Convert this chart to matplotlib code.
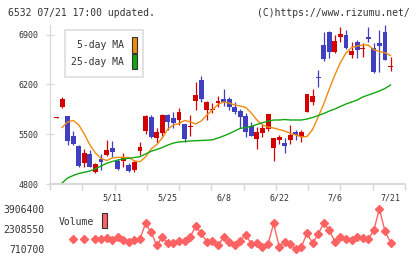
import numpy as np
import matplotlib.pyplot as plt
from matplotlib.patches import Rectangle

nan = np.nan

# daily prices (one entry per trading day)
opens = [5733, 5887, 5756, 5475, 5339, 5099, 5222, 4973, 5152, 5208,
         5306, 5123, 5128, 5067, 4997, 5268, 5549, 5746, 5451, 5521,
         5770, 5724, 5700, 5644, 5608, 5967, 6262, 5840, 5843, 5943,
         5991, 5995, 5878, 5826, 5752, 5615, 5433, 5521, 5573, 5310,
         5419, 5381, 5419, 5531, 5465, 5817, 5957, 6302, 6754, 6941,
         6660, 6871, 6895, 6614, 6792, 6694, 6863, 6719, 6778, 6941,
         6452]
highs = [5747, 6027, 5756, 5545, 5348, 5292, 5278, 5100, 5222, 5419,
         5405, 5150, 5240, 5090, 5137, 5395, 5770, 5770, 5587, 5780,
         5785, 5817, 5869, 5650, 5770, 6238, 6318, 5970, 5939, 6037,
         6136, 6023, 5957, 5860, 5798, 5672, 5600, 5644, 5790, 5450,
         5490, 5447, 5630, 5560, 5559, 6070, 6136, 6403, 6941, 6945,
         6895, 7012, 6965, 6792, 6825, 6778, 7012, 6778, 6965, 7036,
         6590]
lows = [5733, 5864, 5348, 5348, 5035, 5039, 5039, 4950, 4997, 5194,
        5184, 4997, 5035, 4970, 4973, 5208, 5503, 5451, 5376, 5480,
        5559, 5583, 5630, 5395, 5475, 5840, 5957, 5700, 5798, 5883,
        5897, 5840, 5784, 5587, 5461, 5475, 5292, 5465, 5545, 5128,
        5362, 5236, 5362, 5419, 5395, 5810, 5911, 6168, 6534, 6572,
        6646, 6792, 6698, 6576, 6567, 6590, 6792, 6356, 6379, 6543,
        6389]
closes = [5747, 5995, 5405, 5358, 5057, 5240, 5043, 5081, 5114, 5278,
          5254, 5011, 5170, 4983, 5114, 5316, 5756, 5465, 5531, 5770,
          5676, 5662, 5817, 5428, 5622, 6051, 5991, 5957, 5857, 5967,
          5953, 5878, 5812, 5746, 5535, 5479, 5531, 5583, 5784, 5443,
          5465, 5339, 5489, 5489, 5531, 6065, 6037, 6288, 6553, 6660,
          6815, 6905, 6716, 6670, 6684, 6716, 6839, 6379, 6745, 6543,
          6466]

ma5 = [nan, 5594, 5672, 5693, 5630, 5503, 5348, 5236, 5159, 5130,
       5166, 5175, 5175, 5173, 5123, 5114, 5180, 5292, 5355, 5447,
       5573, 5630, 5651, 5693, 5676, 5644, 5686, 5770, 5840, 5918,
       5953, 5939, 5911, 5897, 5876, 5798, 5700, 5630, 5601, 5587,
       5566, 5545, 5513, 5489, 5461, 5468, 5566, 5742, 5925, 6136,
       6333, 6508, 6642, 6719, 6740, 6754, 6754, 6688, 6663, 6646,
       6607]
ma25 = [nan, 4814, 4884, 4920, 4948, 4965, 4983, 5015, 5053, 5091,
        5116, 5137, 5152, 5161, 5173, 5184, 5222, 5260, 5285, 5313,
        5348, 5376, 5391, 5398, 5405, 5409, 5412, 5416, 5421, 5447,
        5475, 5507, 5545, 5583, 5594, 5611, 5637, 5662, 5683, 5700,
        5700, 5707, 5700, 5700, 5700, 5714, 5735, 5763, 5791, 5826,
        5855, 5890, 5925, 5953, 5981, 6023, 6051, 6079, 6108, 6143,
        6192]

volume = [nan, nan, nan, 1510000, nan, 1510000, nan, 1486000, 1486000, 1566000,
          1430000, 1645000, 1430000, 1270000, 1430000, 1510000, 2764000, 2045000, 1006000, 1645000,
          1166000, 1166000, 1374000, 1374000, 1645000, 2548000, 1965000, 1294000, 1374000, 1006000,
          1645000, 1270000, 1006000, 1374000, 1829000, 1110000, 1214000, 846000, 1110000, 2764000,
          894000, 1270000, 1110000, 686000, 894000, 1965000, 1166000, 1909000, 2764000, 2229000,
          1294000, 1693000, 1486000, 1430000, 1645000, 1566000, 1486000, 2229000, 3906000, 2149000,
          1214000]

date_idx = [10, 20, 30, 40, 50, 60]
date_labels = ['5/11', '5/25', '6/8', '6/22', '7/6', '7/21']
price_ticks = [4800, 5500, 6200, 6900]
vol_ticks = [710700, 2308550, 3906400]

RED = '#d40000'
BLUE = '#3f3fbf'
ORANGE = '#f08a10'
GREEN = '#10a810'
VOLC = '#ff6262'
GRID = '#d6d6d6'
TXT = '#333333'
MONO = 'DejaVu Sans Mono'

W, H = 420, 259
fig = plt.figure(figsize=(W / 100, H / 100), dpi=100)


def box(x0, y0, x1, y1):
    # pixel box -> figure fraction
    return [x0 / W, 1 - y1 / H, (x1 - x0) / W, (y1 - y0) / H]


xlim = (-1.17, 62.6)

# price panel
ax = fig.add_axes(box(50, 25, 405, 184))
x = np.arange(len(opens))
o = np.array(opens)
c = np.array(closes)
col = np.where(c >= o, RED, BLUE)
ax.vlines(x, lows, highs, colors=col, lw=0.9)
ax.bar(x, np.maximum(np.abs(c - o), 14), bottom=np.minimum(o, c), width=0.88,
       color=col, lw=0)
ax.plot(x, ma5, color=ORANGE, lw=1)
ax.plot(x, ma25, color=GREEN, lw=1)
ax.set_xlim(*xlim)
ax.set_ylim(4800, 7036)

for s in ['top', 'right']:
    ax.spines[s].set_visible(False)
ax.spines['left'].set_color(GRID)
ax.spines['bottom'].set_color(GRID)
ax.spines['bottom'].set_linewidth(1.3)

ax.set_yticks(price_ticks)
ax.set_yticklabels([str(v) for v in price_ticks], family=MONO, fontsize=6, color=TXT)
ax.tick_params(axis='y', direction='inout', length=6, color=GRID, pad=5)
ax.set_xticks(np.linspace(xlim[0], xlim[1], 12))
ax.set_xticklabels([])
ax.tick_params(axis='x', which='major', direction='out', length=4.5, color=GRID, width=1)
ax.set_xticks(date_idx, date_labels, minor=True)
ax.tick_params(axis='x', which='minor', length=0, pad=7, labelsize=6, labelcolor=TXT)
for t in ax.get_xticklabels(minor=True):
    t.set_family(MONO)

# volume panel
ax2 = fig.add_axes(box(50, 203, 405, 255))
ax2.plot(x, volume, color=VOLC, lw=1, marker='D', ms=4, mfc=VOLC, mec=VOLC)
ax2.set_xlim(*xlim)
ax2.set_ylim(231348, 4385732)
for s in ax2.spines.values():
    s.set_visible(False)
ax2.set_xticks([])
ax2.set_yticks(vol_ticks)
ax2.set_yticklabels([str(v) for v in vol_ticks], family=MONO, fontsize=7, color=TXT)
ax2.tick_params(axis='y', length=0, pad=4)

# header
fig.text(8 / W, 1 - 12.5 / H, '6532 07/21 17:00 updated.', family=MONO, fontsize=7,
         color=TXT, va='center')
fig.text(410 / W, 1 - 12.5 / H, '(C)https://www.rizumu.net/', family=MONO, fontsize=7,
         color=TXT, va='center', ha='right')

# legend for moving averages
fig.add_artist(Rectangle((65 / W, 1 - 77 / H), 78 / W, 47 / H, transform=fig.transFigure,
                         fc='white', ec='#dddddd', lw=1.2))
fig.add_artist(Rectangle((132 / W, 1 - 52.7 / H), 5 / W, 15.4 / H, transform=fig.transFigure,
                         fc=ORANGE, ec=TXT, lw=0.8))
fig.add_artist(Rectangle((132 / W, 1 - 69.3 / H), 5 / W, 15 / H, transform=fig.transFigure,
                         fc=GREEN, ec=TXT, lw=0.8))
fig.text(124 / W, 1 - 45 / H, '5-day MA', family=MONO, fontsize=7, color=TXT,
         ha='right', va='center')
fig.text(124 / W, 1 - 62 / H, '25-day MA', family=MONO, fontsize=7, color=TXT,
         ha='right', va='center')

# legend for volume
fig.text(59 / W, 1 - 222 / H, 'Volume', family=MONO, fontsize=7, color=TXT, va='center')
fig.add_artist(Rectangle((102 / W, 1 - 228.3 / H), 5 / W, 15 / H, transform=fig.transFigure,
                         fc=VOLC, ec=TXT, lw=0.8))

fig.savefig('out.png', dpi=100, facecolor='white')
